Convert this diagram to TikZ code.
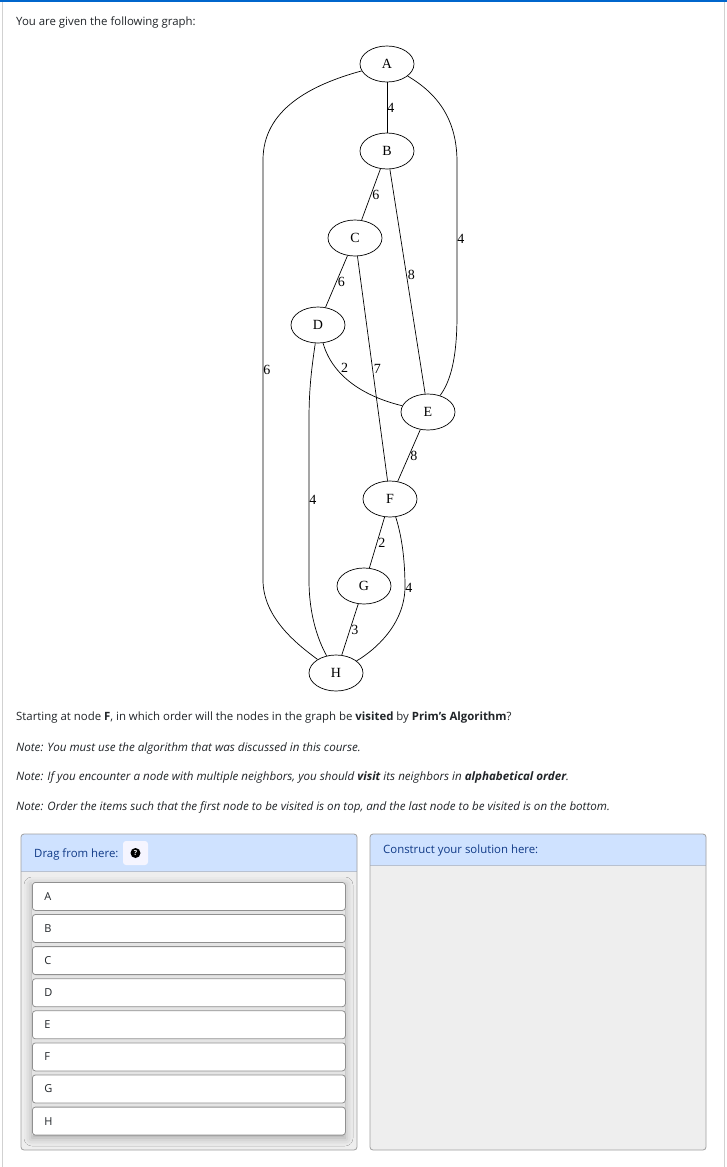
\documentclass[tikz,border=0pt]{standalone}
\usepackage{fontspec}
\setmainfont{Open Sans}
\newfontfamily\dotfont{Liberation Serif}
\usetikzlibrary{shapes.geometric, shadows.blur}

\definecolor{topblue}{RGB}{0,102,204}
\definecolor{hdrblue}{RGB}{207,226,255}
\definecolor{hdrtext}{RGB}{16,58,135}
\definecolor{bodygray}{RGB}{238,238,238}
\definecolor{lineg}{RGB}{160,160,160}
\definecolor{textdark}{RGB}{33,37,41}

\begin{document}
\begin{tikzpicture}[
  x=1pt, y=-1pt,
  vertex/.style={ellipse, draw, line width=0.7pt, minimum width=54pt, minimum height=36pt, inner sep=0pt, font=\dotfont\fontsize{14}{14}\selectfont},
  edge/.style={draw, line width=0.7pt},
  wt/.style={anchor=west, inner sep=1pt, font=\dotfont\fontsize{14}{14}\selectfont},
  txt/.style={anchor=west, inner sep=0pt, text=textdark, font=\fontsize{11.4}{13}\selectfont},
  note/.style={txt, font=\fontsize{11.6}{13}\selectfont\itshape},
  panel/.style={draw=lineg, line width=0.8pt, rounded corners=3pt},
  item/.style={draw=lineg!90!black, fill=white, line width=0.8pt, rounded corners=3pt, anchor=north west,
    text width=289pt, inner xsep=12pt, inner ysep=0pt, minimum height=28pt, align=left, text=textdark,
    font=\fontsize{11}{13}\selectfont}
]
\useasboundingbox (0,0) rectangle (727,1167);
\fill[white] (0,0) rectangle (727,1167);
\draw[black!18, line width=1pt] (2.5,0) -- (2.5,1167) (724.5,0) -- (724.5,1167);
\fill[topblue] (0,0) rectangle (727,1.6);

\node[txt] (intro) at (16,23) {You are given the following graph:};

% graph
\node[vertex] (A) at (387,64) {A};
\node[vertex] (B) at (387,151) {B};
\node[vertex] (C) at (355,238) {C};
\node[vertex] (D) at (318,325) {D};
\node[vertex] (E) at (428,412) {E};
\node[vertex] (F) at (390,499) {F};
\node[vertex] (G) at (364,586) {G};
\node[vertex] (H) at (336,673) {H};

\draw[edge] (A) -- node[wt, inner sep=0pt] {4} (B);
\draw[edge] (B) -- node[wt] {6} (C);
\draw[edge] (B) -- node[wt, pos=0.47] {8} (E);
\draw[edge] (C) -- node[wt] {6} (D);
\draw[edge] (C) -- node[wt, pos=0.5] {7} (F);
\draw[edge] (E) -- node[wt] {8} (F);
\draw[edge] (F) -- node[wt] {2} (G);
\draw[edge] (G) -- node[wt] {3} (H);
\draw[edge] (A) .. controls (310,85) and (263,110) .. (263,160)
  -- node[wt, inner sep=0pt] {6} (263,580) .. controls (263,618) and (298,645) .. (H);
\draw[edge] (A) .. controls (440,95) and (457,122) .. (457,162)
  -- node[wt, inner sep=0pt] {4} (457,315) .. controls (457,360) and (450,382) .. (E);
\draw[edge] (D) .. controls (311,372) and (309,392) .. (309,420)
  -- node[wt, inner sep=0pt] {4} (309,580) .. controls (309,615) and (318,640) .. (H);
\draw[edge] (D) .. controls (332,375) and (362,396) .. (E);
\node[wt, inner sep=0pt] (wDE) at (341,368) {2};
\draw[edge] (F) .. controls (403,540) and (405,565) .. (405,588)
  node[wt, inner sep=0pt] {4} .. controls (404,625) and (375,650) .. (H);

% question
\node[txt] (q) at (16,718) {Starting at node \textbf{F}, in which order will the nodes in the graph be \textbf{visited} by \textbf{Prim's Algorithm}?};
\node[note] (n1) at (16,748) {Note: You must use the algorithm that was discussed in this course.};
\node[note] (n2) at (16,777) {Note: If you encounter a node with multiple neighbors, you should \textbf{visit} its neighbors in \textbf{alphabetical order}.};
\node[note] (n3) at (16,807) {Note: Order the items such that the first node to be visited is on top, and the last node to be visited is on the bottom.};

% drag panel
\fill[bodygray, rounded corners=3pt] (21,834) rectangle (357,1150);
\fill[hdrblue] (21,871) {[rounded corners=3pt] -- (21,834) -- (357,834)} -- (357,871) -- cycle;
\draw[hdrblue!50!lineg, line width=0.8pt] (21,871) -- (357,871);
\draw[panel] (21,834) rectangle (357,1150);
\node[txt, text=hdrtext] (drag) at (34,854) {Drag from here:};
\fill[white!96!blue, rounded corners=3pt] (123,841) rectangle (148,865);
\node[circle, fill=black, inner sep=0pt, minimum size=10pt, text=white, font=\bfseries\fontsize{7}{7}\selectfont] (help) at (135.5,853) {?};

\fill[bodygray!96!black, blur shadow={shadow xshift=0pt, shadow yshift=-3pt, shadow blur radius=8pt, shadow opacity=30}] (32,882) rectangle (345,1135);
\foreach \l [count=\i from 0] in {A,B,C,D,E,F,G,H}
  \node[item] (item\l) at (32,882+32.1*\i) {\l};

% solution panel
\fill[bodygray, rounded corners=3pt] (370,834) rectangle (706,1150);
\fill[hdrblue] (370,865) {[rounded corners=3pt] -- (370,834) -- (706,834)} -- (706,865) -- cycle;
\draw[hdrblue!50!lineg, line width=0.8pt] (370,865) -- (706,865);
\draw[panel] (370,834) rectangle (706,1150);
\node[txt, text=hdrtext] (build) at (383,851) {Construct your solution here:};
\end{tikzpicture}
\end{document}
